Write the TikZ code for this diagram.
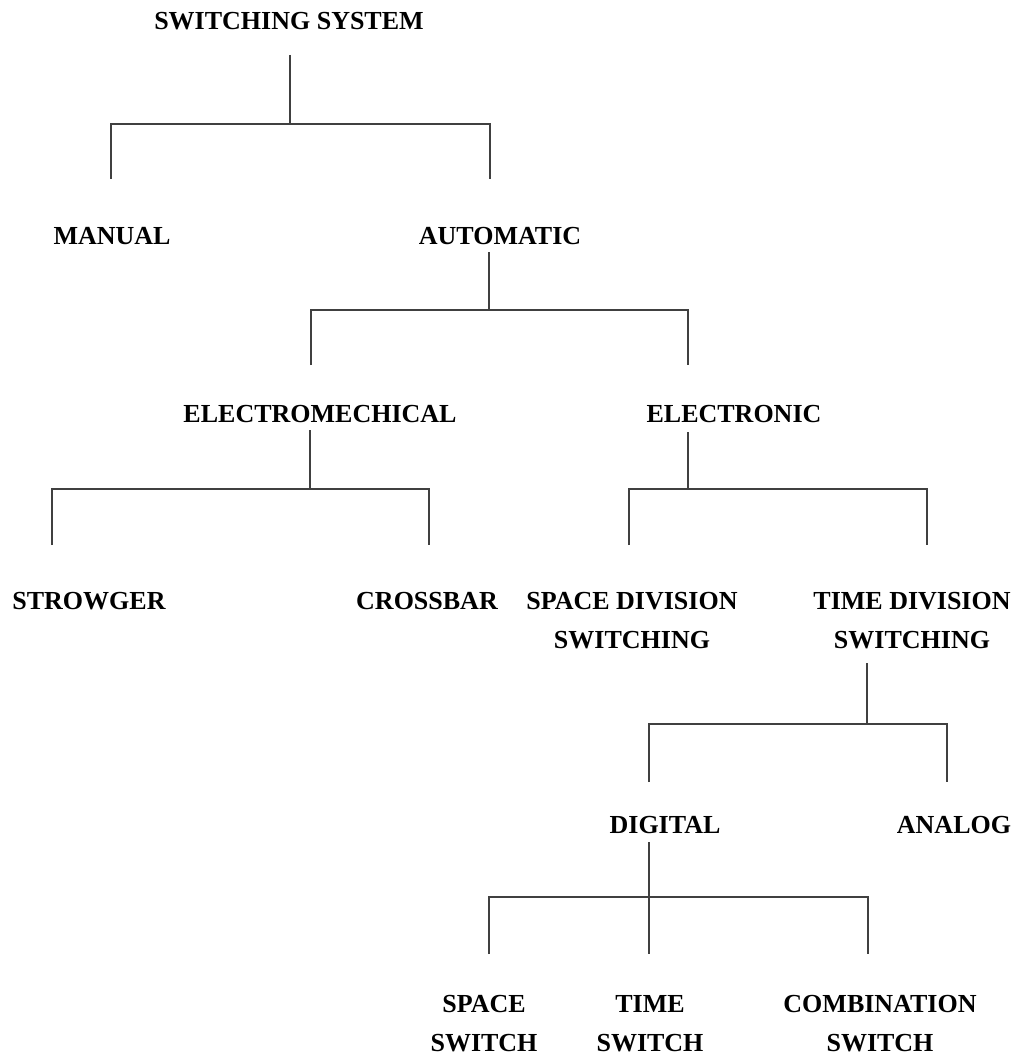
\documentclass[tikz,border=0pt]{standalone}
\usepackage{fontspec}
\setmainfont{Liberation Serif}
\usepackage{tikz}

\begin{document}
\begin{tikzpicture}[x=1pt,y=-1pt,
	label/.style={anchor=base,inner sep=0pt,align=center,font=\fontsize{26}{39}\selectfont\bfseries},
	branch/.style={draw=black!75,line width=1.3pt}]

	\useasboundingbox (0,0) rectangle (1021,1059);

	\node[label] (sys) at (289, 29.5)     {SWITCHING SYSTEM};
	\node[label] (manual) at (112, 244)     {MANUAL};
	\node[label] (auto) at (500, 244)     {AUTOMATIC};
	\node[label] (emech) at (320, 422)     {ELECTROMECHICAL};
	\node[label] (etronic) at (734, 422)     {ELECTRONIC};
	\node[label] (strow) at (89, 609)     {STROWGER};
	\node[label] (cross) at (427, 609)     {CROSSBAR};
	\node[label] (sdiv) at (632, 648)     {SPACE DIVISION\\SWITCHING};
	\node[label] (tdiv) at (912, 648)     {TIME DIVISION\\SWITCHING};
	\node[label] (digital) at (665, 833)     {DIGITAL};
	\node[label] (analog) at (954, 833)     {ANALOG};
	\node[label] (sswitch) at (484, 1051)     {SPACE\\SWITCH};
	\node[label] (tswitch) at (650, 1051)     {TIME\\SWITCH};
	\node[label] (comb) at (880, 1051)     {COMBINATION\\SWITCH};

	\coordinate (sys-out) at (290, 55);
	\coordinate (sys-bar) at (290, 124);
	\coordinate (manual-in) at (111, 179);
	\coordinate (auto-in) at (490, 179);

	\coordinate (auto-out) at (489, 252);
	\coordinate (auto-bar) at (489, 310);
	\coordinate (emech-in) at (311, 365);
	\coordinate (etronic-in) at (688, 365);

	\coordinate (emech-out) at (310, 430);
	\coordinate (emech-bar) at (310, 489);
	\coordinate (strow-in) at (52, 545);
	\coordinate (cross-in) at (429, 545);

	\coordinate (etronic-out) at (688, 432);
	\coordinate (etronic-bar) at (688, 489);
	\coordinate (sdiv-in) at (629, 545);
	\coordinate (tdiv-in) at (927, 545);

	\coordinate (tdiv-out) at (867, 663);
	\coordinate (tdiv-bar) at (867, 724);
	\coordinate (digital-in) at (649, 782);
	\coordinate (analog-in) at (947, 782);

	\coordinate (digital-out) at (649, 842);
	\coordinate (digital-bar) at (649, 897);
	\coordinate (sswitch-in) at (489, 954);
	\coordinate (tswitch-in) at (649, 954);
	\coordinate (comb-in) at (868, 954);

	\draw[branch] (sys-out) -- (sys-bar);
	\draw[branch] (manual-in) |- (sys-bar) -| (auto-in);

	\draw[branch] (auto-out) -- (auto-bar);
	\draw[branch] (emech-in) |- (auto-bar) -| (etronic-in);

	\draw[branch] (emech-out) -- (emech-bar);
	\draw[branch] (strow-in) |- (emech-bar) -| (cross-in);

	\draw[branch] (etronic-out) -- (etronic-bar);
	\draw[branch] (sdiv-in) |- (etronic-bar) -| (tdiv-in);

	\draw[branch] (tdiv-out) -- (tdiv-bar);
	\draw[branch] (digital-in) |- (tdiv-bar) -| (analog-in);

	\draw[branch] (digital-out) -- (tswitch-in);
	\draw[branch] (sswitch-in) |- (digital-bar) -| (comb-in);

\end{tikzpicture}
\end{document}
